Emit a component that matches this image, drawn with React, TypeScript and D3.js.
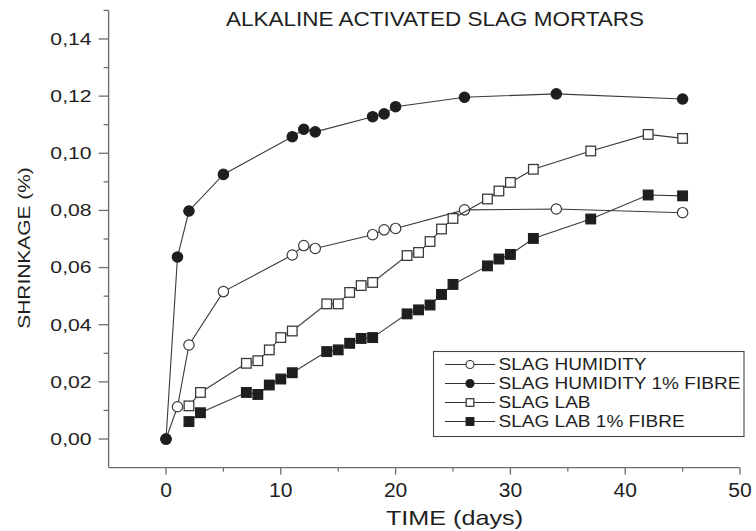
import React from "react";
import * as d3 from "d3";

// Measurement days
const humidityDays = [0, 1, 2, 5, 11, 12, 13, 18, 19, 20, 26, 34, 45];
const labDays = [2, 3, 7, 8, 9, 10, 11, 14, 15, 16, 17, 18, 21, 22, 23, 24, 25, 28, 29, 30, 32, 37, 42, 45];

// Shrinkage (%) per series
const slagHumidity = [0, 0.0113, 0.0329, 0.0516, 0.0644, 0.0677, 0.0667, 0.0715, 0.0732, 0.0737, 0.0802, 0.0805, 0.0792];
const slagHumidityFibre = [0, 0.0637, 0.0798, 0.0926, 0.1058, 0.1084, 0.1075, 0.1128, 0.1138, 0.1163, 0.1196, 0.1208, 0.119];
const slagLab = [0.0116, 0.0163, 0.0265, 0.0274, 0.0312, 0.0355, 0.0378, 0.0473, 0.0473, 0.0513, 0.0537, 0.0548, 0.0642, 0.0653, 0.0691, 0.0735, 0.0772, 0.084, 0.0868, 0.0898, 0.0944, 0.1008, 0.1066, 0.1052];
const slagLabFibre = [0.0061, 0.0092, 0.0163, 0.0156, 0.0189, 0.021, 0.0232, 0.0306, 0.0312, 0.0335, 0.0352, 0.0355, 0.0438, 0.0452, 0.0469, 0.0506, 0.0541, 0.0606, 0.063, 0.0646, 0.0702, 0.077, 0.0854, 0.0851];

const seriesNames = ["SLAG HUMIDITY", "SLAG HUMIDITY 1% FIBRE", "SLAG LAB", "SLAG LAB 1% FIBRE"];
const xTicks = [0, 10, 20, 30, 40, 50];
const xMinorTicks = [5, 15, 25, 35, 45];
const yTicks = [0, 0.02, 0.04, 0.06, 0.08, 0.1, 0.12, 0.14];
const yMinorTicks = [0.01, 0.03, 0.05, 0.07, 0.09, 0.11, 0.13, 0.15];

const chartTitle = "ALKALINE ACTIVATED SLAG MORTARS";
const xTitle = "TIME (days)";
const yTitle = "SHRINKAGE (%)";

const FONT = "'Liberation Sans', Arial, Helvetica, sans-serif";
const INK = "#1e1e1e";
const AXIS = "#6e6e6e";

const commaLocale = d3.formatLocale({ decimal: ",", thousands: ".", grouping: [3], currency: ["", ""] });
const fmtY = commaLocale.format(".2f");

type Shape = "circle" | "square";

interface Series {
  name: string;
  days: number[];
  values: number[];
  shape: Shape;
  filled: boolean;
}

const series: Series[] = [
  { name: seriesNames[0], days: humidityDays, values: slagHumidity, shape: "circle", filled: false },
  { name: seriesNames[2], days: labDays, values: slagLab, shape: "square", filled: false },
  { name: seriesNames[3], days: labDays, values: slagLabFibre, shape: "square", filled: true },
  { name: seriesNames[1], days: humidityDays, values: slagHumidityFibre, shape: "circle", filled: true },
];

const legendOrder = [0, 3, 1, 2];

function Marker({ x, y, shape, filled, size }: { x: number; y: number; shape: Shape; filled: boolean; size: number }) {
  const fill = filled ? INK : "#fff";
  const stroke = filled ? INK : "#3a3a3a";
  if (shape === "circle") {
    return <circle cx={x} cy={y} r={size} fill={fill} stroke={stroke} strokeWidth={1.2} />;
  }
  return <rect x={x - size} y={y - size} width={size * 2} height={size * 2} fill={fill} stroke={stroke} strokeWidth={1.3} />;
}

function SText({ x, y, sx, anchor = "start", size, rotate = 0, children }: { x: number; y: number; sx: number; anchor?: string; size: number; rotate?: number; children: React.ReactNode }) {
  return (
    <text
      transform={`translate(${x},${y}) rotate(${rotate}) scale(${sx},1)`}
      textAnchor={anchor as any}
      fontFamily={FONT}
      fontSize={size}
      fill={INK}
    >
      {children}
    </text>
  );
}

export default function App() {
  const x = d3.scaleLinear().domain([-5, 50]).range([108.6, 740]);
  const y = d3.scaleLinear().domain([-0.01, 0.15]).range([467.6, 10.4]);
  const x0 = x(-5);
  const y0 = y(-0.01);

  const line = d3
    .line<[number, number]>()
    .x((d) => x(d[0]))
    .y((d) => y(d[1]));

  const legend = { x: 433.5, y: 351.5, w: 310.5, h: 85, row0: 364.5, rowGap: 19, lineX0: 445, lineX1: 495, textX: 498.5 };

  return (
    <svg width={756} height={531} style={{ position: "absolute", left: 0, top: 0, background: "#fff" }}>
      <SText x={226} y={26} sx={1.125} size={20}>{chartTitle}</SText>

      {/* axes */}
      <line x1={x0} x2={x0} y1={y(0.15)} y2={y0} stroke={AXIS} strokeWidth={1.4} />
      <line x1={x0} x2={x(50)} y1={y0} y2={y0} stroke={AXIS} strokeWidth={1.4} />
      {yTicks.map((t) => (
        <g key={"yt" + t}>
          <line x1={x0 - 10} x2={x0} y1={y(t)} y2={y(t)} stroke={AXIS} strokeWidth={1.3} />
          <SText x={x0 - 17} y={y(t) + 5.8} sx={1.3} anchor="end" size={16.3}>{fmtY(t)}</SText>
        </g>
      ))}
      {yMinorTicks.map((t) => (
        <line key={"ym" + t} x1={x0 - 5} x2={x0} y1={y(t)} y2={y(t)} stroke={AXIS} strokeWidth={1.3} />
      ))}
      {xTicks.map((t) => (
        <g key={"xt" + t}>
          <line x1={x(t)} x2={x(t)} y1={y0} y2={y0 + 7} stroke={AXIS} strokeWidth={1.3} />
          <SText x={x(t)} y={497.3} sx={1.08} anchor="middle" size={19.5}>{String(t)}</SText>
        </g>
      ))}
      {xMinorTicks.map((t) => (
        <line key={"xm" + t} x1={x(t)} x2={x(t)} y1={y0} y2={y0 + 4} stroke={AXIS} strokeWidth={1.3} />
      ))}

      <SText x={454.5} y={525} sx={1.26} anchor="middle" size={20}>{xTitle}</SText>
      <SText x={30} y={248} sx={1.23} anchor="middle" size={17} rotate={-90}>{yTitle}</SText>

      {/* data */}
      {series.map((s) => {
        const pts = s.days.map((d, i) => [d, s.values[i]] as [number, number]);
        return (
          <g key={s.name}>
            <path d={line(pts) ?? ""} fill="none" stroke="#3a3a3a" strokeWidth={1.1} />
            {pts.map((p, i) => (
              <Marker key={i} x={x(p[0])} y={y(p[1])} shape={s.shape} filled={s.filled} size={s.shape === "circle" ? 5.2 : 4.8} />
            ))}
          </g>
        );
      })}

      {/* legend */}
      <rect x={legend.x} y={legend.y} width={legend.w} height={legend.h} fill="#fff" stroke="#444" strokeWidth={1.1} />
      {legendOrder.map((si, row) => {
        const s = series[si];
        const cy = legend.row0 + row * legend.rowGap;
        const cx = (legend.lineX0 + legend.lineX1) / 2;
        return (
          <g key={"lg" + s.name}>
            <line x1={legend.lineX0} x2={legend.lineX1} y1={cy} y2={cy} stroke="#333" strokeWidth={1.1} />
            <Marker x={cx} y={cy} shape={s.shape} filled={s.filled} size={s.shape === "circle" ? 4 : 3.8} />
            <SText x={legend.textX} y={cy + 5.8} sx={1.19} size={16}>{s.name}</SText>
          </g>
        );
      })}
    </svg>
  );
}
